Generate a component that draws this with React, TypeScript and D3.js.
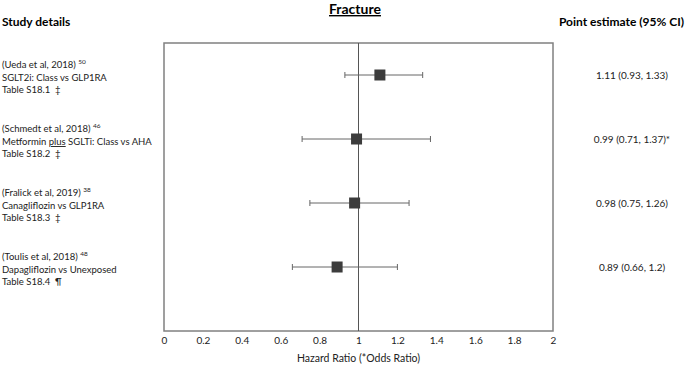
import React, { useRef, useEffect } from 'react';
import * as d3 from 'd3';

// study details, one entry per row
const studies = ['(Ueda et al, 2018)', '(Schmedt et al, 2018)', '(Fralick et al, 2019)', '(Toulis et al, 2018)'];
const refs = ['50', '46', '38', '48'];
const comparisons = ['SGLT2i: Class vs GLP1RA', 'Metformin plus SGLTi: Class vs AHA', 'Canagliflozin vs GLP1RA', 'Dapagliflozin vs Unexposed'];
const tables = ['Table S18.1  ‡', 'Table S18.2  ‡', 'Table S18.3  ‡', 'Table S18.4  ¶'];

const estimates = [1.11, 0.99, 0.98, 0.89];
const lower = [0.93, 0.71, 0.75, 0.66];
const upper = [1.33, 1.37, 1.26, 1.2];
const estLabels = ['1.11 (0.93, 1.33)', '0.99 (0.71, 1.37)*', '0.98 (0.75, 1.26)', '0.89 (0.66, 1.2)'];

const xTicks = [0, 0.2, 0.4, 0.6, 0.8, 1, 1.2, 1.4, 1.6, 1.8, 2];

const W = 685, H = 366;
const FONT = 'Lato, "Open Sans", sans-serif';

export default function App() {
  const ref = useRef<SVGSVGElement>(null);

  useEffect(() => {
    const svg = d3.select(ref.current);
    svg.selectAll('*').remove();

    const box = { left: 164, right: 553, top: 43, bottom: 331 };
    const x = d3.scaleLinear().domain([0, 2]).range([box.left, box.right]);
    // rows on a point scale over the plot height, with an empty slot at the bottom
    const y = d3.scalePoint<number>().domain([0, 1, 2, 3, 4]).range([75, 331]);

    // headers
    svg.append('text').attr('x', 2).attr('y', 26).attr('font-size', 12).attr('font-weight', 'bold')
      .attr('font-family', FONT).text('Study details');
    svg.append('text').attr('x', 355).attr('y', 14).attr('text-anchor', 'middle').attr('font-size', 14)
      .attr('font-weight', 'bold').attr('text-decoration', 'underline').attr('font-family', FONT).text('Fracture');
    svg.append('text').attr('x', 684).attr('y', 26).attr('text-anchor', 'end').attr('font-size', 12)
      .attr('font-weight', 'bold').attr('font-family', FONT).text('Point estimate (95% CI)');

    // plot frame
    svg.append('rect').attr('x', box.left).attr('y', box.top)
      .attr('width', box.right - box.left).attr('height', box.bottom - box.top)
      .attr('fill', 'none').attr('stroke', '#808080').attr('stroke-width', 1.5);

    // line of no effect
    svg.append('line').attr('x1', x(1)).attr('x2', x(1)).attr('y1', box.top).attr('y2', box.bottom)
      .attr('stroke', '#555').attr('stroke-width', 1);

    // x axis labels
    const axis = d3.axisBottom(x).tickValues(xTicks).tickSize(0).tickPadding(6)
      .tickFormat(d => String(d));
    const gx = svg.append('g').attr('transform', `translate(0,${box.bottom})`).call(axis);
    gx.select('.domain').remove();
    gx.selectAll('text').attr('font-size', 10).attr('font-family', FONT).attr('fill', '#222');

    svg.append('text').attr('x', x(1)).attr('y', 362).attr('text-anchor', 'middle')
      .attr('font-size', 10.5).attr('font-family', FONT).attr('fill', '#222').text('Hazard Ratio (*Odds Ratio)');

    const rows = svg.selectAll('.row').data(estimates).enter().append('g').attr('class', 'row');

    // confidence intervals
    rows.append('line').attr('x1', (d, i) => x(lower[i])).attr('x2', (d, i) => x(upper[i]))
      .attr('y1', (d, i) => y(i)!).attr('y2', (d, i) => y(i)!)
      .attr('stroke', '#666').attr('stroke-width', 1);
    rows.append('line').attr('x1', (d, i) => x(lower[i])).attr('x2', (d, i) => x(lower[i]))
      .attr('y1', (d, i) => y(i)! - 3).attr('y2', (d, i) => y(i)! + 3)
      .attr('stroke', '#666').attr('stroke-width', 1);
    rows.append('line').attr('x1', (d, i) => x(upper[i])).attr('x2', (d, i) => x(upper[i]))
      .attr('y1', (d, i) => y(i)! - 3).attr('y2', (d, i) => y(i)! + 3)
      .attr('stroke', '#666').attr('stroke-width', 1);

    // point estimates
    const sq = 11;
    rows.append('rect').attr('x', d => x(d) - sq / 2).attr('y', (d, i) => y(i)! - sq / 2)
      .attr('width', sq).attr('height', sq).attr('fill', '#3c3c3c');

    // right column labels
    rows.append('text').attr('x', 632).attr('y', (d, i) => y(i)! + 4).attr('text-anchor', 'middle')
      .attr('font-size', 10).attr('font-family', FONT).attr('fill', '#222').text((d, i) => estLabels[i]);

    // left column study text
    const lt = rows.append('text').attr('font-size', 9.5).attr('font-family', FONT).attr('fill', '#222')
      .style('white-space', 'pre');
    lt.each(function (d, i) {
      const t = d3.select(this);
      const cy = y(i)!;
      const l1 = t.append('tspan').attr('x', 2).attr('y', cy - 7);
      l1.append('tspan').text(studies[i] + ' ');
      l1.append('tspan').attr('font-size', 6.5).attr('dy', -4).text(refs[i]);
      const l2 = t.append('tspan').attr('x', 2).attr('y', cy + 6);
      const parts = comparisons[i].split(' plus ');
      if (parts.length > 1) {
        l2.append('tspan').text(parts[0] + ' ');
        l2.append('tspan').attr('text-decoration', 'underline').text('plus');
        l2.append('tspan').text(' ' + parts[1]);
      } else {
        l2.text(comparisons[i]);
      }
      t.append('tspan').attr('x', 2).attr('y', cy + 18).text(tables[i]);
    });
  }, []);

  return (
    <svg ref={ref} width={W} height={H} style={{ position: 'absolute', left: 0, top: 0, background: '#fff' }} />
  );
}
